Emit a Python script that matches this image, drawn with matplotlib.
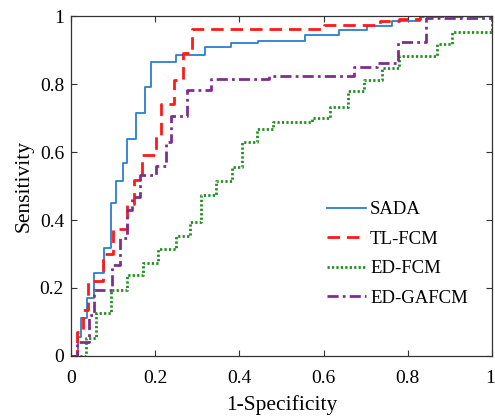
import matplotlib
matplotlib.use("Agg")
import matplotlib.pyplot as plt
from matplotlib.transforms import ScaledTranslation

# ROC step corners: at each fpr the curve jumps up to tpr
sada_fpr = [0, 0.017, 0.023, 0.037, 0.055, 0.078, 0.094, 0.107, 0.123, 0.132, 0.154, 0.177,
            0.191, 0.249, 0.319, 0.379, 0.445, 0.556, 0.637, 0.702, 0.763, 0.829, 1.0]
sada_tpr = [0, 0.057, 0.111, 0.172, 0.245, 0.319, 0.449, 0.515, 0.569, 0.639, 0.716, 0.790,
            0.866, 0.886, 0.910, 0.921, 0.926, 0.945, 0.958, 0.971, 0.985, 1.0, 1.0]

tl_fpr = [0, 0.015, 0.029, 0.041, 0.077, 0.099, 0.132, 0.150, 0.168, 0.201, 0.215, 0.245,
          0.267, 0.288, 0.60, 0.734, 0.78, 0.83, 1.0]
tl_tpr = [0, 0.07, 0.135, 0.22, 0.30, 0.374, 0.447, 0.518, 0.591, 0.65, 0.74, 0.812,
          0.89, 0.963, 0.974, 0.986, 0.99, 1.0, 1.0]

ed_fpr = [0, 0.036, 0.059, 0.095, 0.132, 0.170, 0.206, 0.249, 0.282, 0.309, 0.345, 0.383,
          0.407, 0.443, 0.479, 0.572, 0.615, 0.659, 0.696, 0.738, 0.779, 0.869, 0.906, 1.0]
ed_tpr = [0, 0.052, 0.125, 0.194, 0.238, 0.274, 0.314, 0.353, 0.395, 0.474, 0.514, 0.557,
          0.630, 0.667, 0.689, 0.699, 0.731, 0.778, 0.812, 0.848, 0.882, 0.919, 0.954, 1.0]

ga_fpr = [0, 0.015, 0.043, 0.055, 0.097, 0.116, 0.132, 0.144, 0.165, 0.201, 0.226, 0.238,
          0.276, 0.332, 0.47, 0.673, 0.728, 0.776, 0.843, 1.0]
ga_tpr = [0, 0.04, 0.12, 0.194, 0.268, 0.346, 0.43, 0.469, 0.532, 0.559, 0.63, 0.706,
          0.782, 0.815, 0.823, 0.851, 0.863, 0.925, 0.995, 1.0]

labels = ["SADA", "TL-FCM", "ED-FCM", "ED-GAFCM"]
ticks = [0, 0.2, 0.4, 0.6, 0.8, 1]
tick_labels = ["0", "0.2", "0.4", "0.6", "0.8", "1"]

plt.rcParams['font.family'] = ['Liberation Serif', 'DejaVu Serif']

fig = plt.figure(figsize=(4.95, 4.17), dpi=100)
ax = fig.add_axes([0.1434, 0.1463, 0.8505, 0.8153])

ax.step(sada_fpr, sada_tpr, where='post', color='#2a7fcf', lw=1.3, label=labels[0])
ax.step(tl_fpr, tl_tpr, where='post', color='#ff1a1a', lw=2.0, dashes=(4.5, 2.5), label=labels[1])
ax.step(ed_fpr, ed_tpr, where='post', color='#1f8f1f', lw=2.0, dashes=(0.8, 0.8), label=labels[2])
ax.step(ga_fpr, ga_tpr, where='post', color='#7e2f8e', lw=2.0, dashes=(4, 1.5, 1, 1.5), label=labels[3])

ax.set_xlim(0, 1)
ax.set_ylim(0, 1)
ax.set_xticks(ticks)
ax.set_xticklabels(tick_labels)
ax.set_yticks(ticks)
ax.set_yticklabels(tick_labels)
ax.tick_params(direction='in', top=True, right=True, labelsize=14, length=4,
               color='#333333')
ax.tick_params(axis='x', pad=10)
ax.tick_params(axis='y', pad=5)
for s in ax.spines.values():
    s.set_color('#333333')
    s.set_linewidth(0.9)

# keep the last x label inside the canvas
last = ax.get_xticklabels()[-1]
last.set_transform(last.get_transform() + ScaledTranslation(-2 / 100, 0, fig.dpi_scale_trans))

ax.set_xlabel("1-Specificity", fontsize=15.5, labelpad=6)
ax.set_ylabel("Sensitivity", fontsize=15.5, labelpad=4)

ax.legend(loc='upper left', bbox_to_anchor=(0.59, 0.478), frameon=False, fontsize=13.5,
          handlelength=2.1, handletextpad=0.2, labelspacing=0.66, borderaxespad=0)

fig.savefig("out.png", dpi=100)
